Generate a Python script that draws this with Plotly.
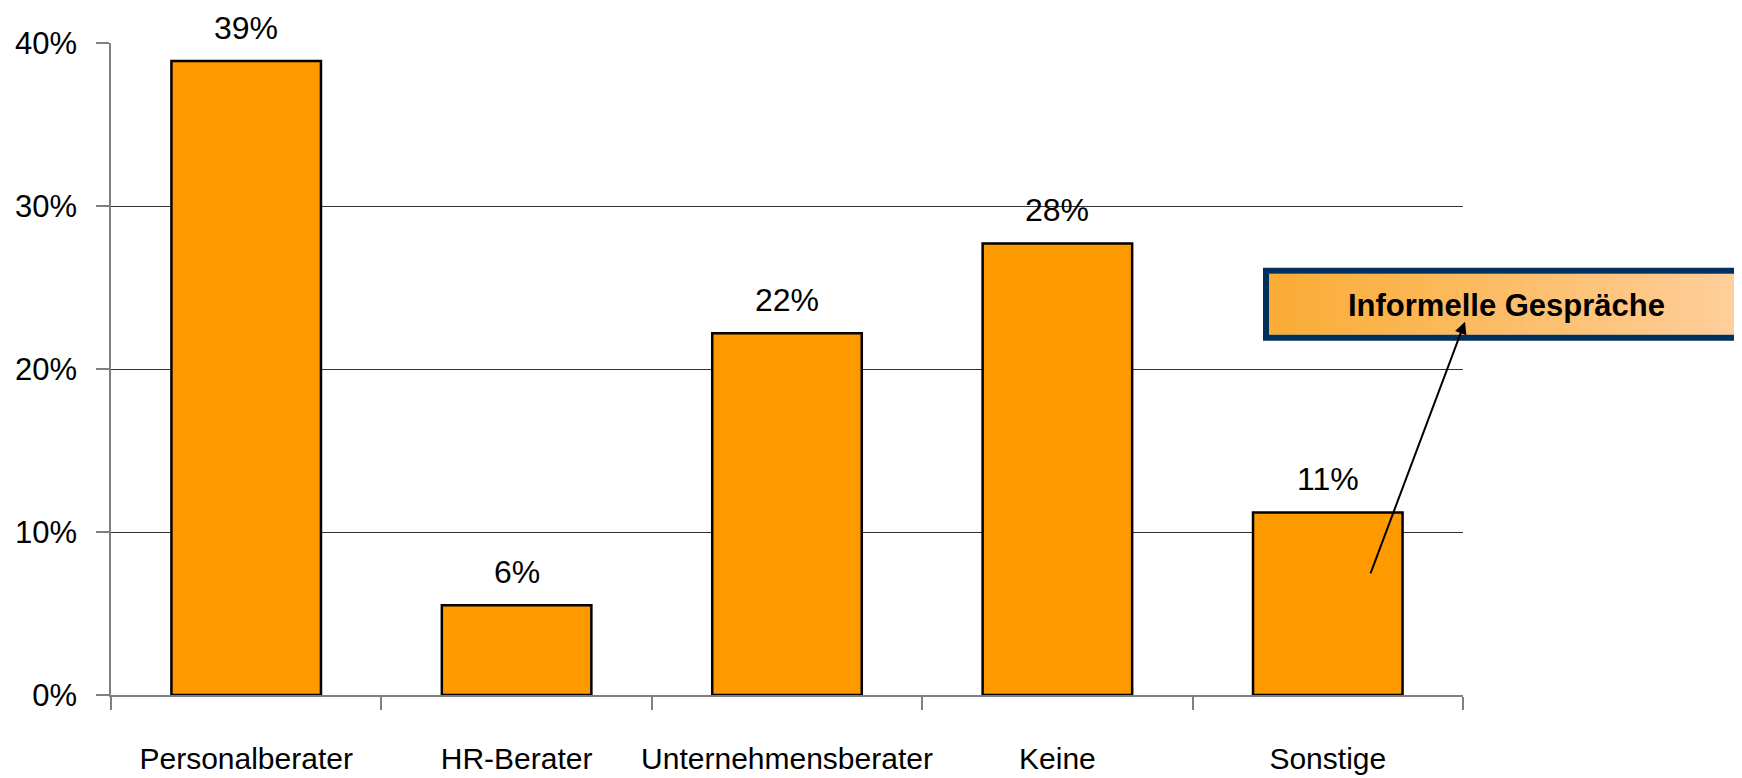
import plotly.graph_objects as go

# ---- data ----
categories = ['Personalberater', 'HR-Berater', 'Unternehmensberater', 'Keine', 'Sonstige']
shares = [38.9, 5.5, 22.2, 27.7, 11.2]
share_labels = ['39%', '6%', '22%', '28%', '11%']
y_ticks = [0, 10, 20, 30, 40]
y_tick_labels = ['0%', '10%', '20%', '30%', '40%']
callout_text = 'Informelle Gespräche'

W, H = 1742, 778
OFF = 8  # page body margin the figure gets drawn at
# plot area in page pixels: x 111..1463, y 43..695.5
L, T = 111 - OFF, 43 - OFF
R = W + OFF - 1463
B = H + OFF - 695.5
FONT = 'Liberation Sans, Arial, sans-serif'


def px_x(px):
    # page pixel -> paper x
    return (px - OFF - L) / (W - L - R)


def px_y(py):
    # page pixel -> paper y
    return (H - B - (py - OFF)) / (H - T - B)


fig = go.Figure()

fig.add_trace(go.Bar(
    x=categories,
    y=shares,
    marker=dict(color='#FF9900', line=dict(color='black', width=2.5)),
    hoverinfo='skip',
))

# value labels above bars
for cat, val, lab in zip(categories, shares, share_labels):
    fig.add_annotation(x=cat, y=val, text=lab, showarrow=False,
                       yanchor='bottom', yshift=14, borderpad=0,
                       font=dict(family=FONT, size=32, color='black'))

# callout box with horizontal gradient (drawn as thin stripes)
x_left, x_right = 1269, 1765
top, bottom = 274, 335
c0 = (250, 172, 52)
c1 = (255, 208, 160)
n = 60
step = (x_right - x_left) / n
for i in range(n):
    t = i / (n - 1)
    col = 'rgb(%d,%d,%d)' % tuple(round(a + (b - a) * t) for a, b in zip(c0, c1))
    fig.add_shape(type='rect', xref='paper', yref='paper',
                  x0=px_x(x_left + i * step), x1=px_x(x_left + (i + 1) * step + 0.6),
                  y0=px_y(bottom), y1=px_y(top),
                  fillcolor=col, line=dict(width=0), layer='above')
fig.add_shape(type='rect', xref='paper', yref='paper',
              x0=px_x(1266), x1=px_x(1800), y0=px_y(338), y1=px_y(271),
              line=dict(color='#00305C', width=6), fillcolor='rgba(0,0,0,0)',
              layer='above')

fig.add_annotation(xref='paper', yref='paper', x=px_x(1506), y=px_y(306),
                   text='<b>' + callout_text + '</b>', showarrow=False,
                   xanchor='center', yanchor='middle',
                   font=dict(family=FONT, size=31, color='black'))

# arrow from the Sonstige bar up to the callout
fig.add_annotation(xref='paper', yref='paper', x=px_x(1465), y=px_y(322),
                   ax=1370 - 1465, ay=575 - 322,
                   text='', showarrow=True, arrowhead=2, arrowsize=1.2,
                   arrowwidth=2, arrowcolor='black')

fig.update_layout(
    width=W, height=H,
    margin=dict(l=L, r=R, t=T, b=B, pad=0),
    plot_bgcolor='white', paper_bgcolor='white',
    bargap=0.447,
    showlegend=False,
    font=dict(family=FONT, size=30, color='black'),
)

fig.update_xaxes(
    type='category', automargin=False, tickangle=0,
    showline=True, linecolor='#808080', linewidth=1.5,
    ticks='outside', tickson='boundaries', ticklen=13, tickcolor='#808080', tickwidth=1.5,
    tickfont=dict(family=FONT, size=30, color='black'),
    ticklabelstandoff=36,
    showgrid=False,
)

fig.update_yaxes(
    range=[0, 40], automargin=False,
    tickvals=y_ticks, ticktext=y_tick_labels,
    showline=True, linecolor='#808080', linewidth=1.5,
    ticks='outside', ticklen=13, tickcolor='#808080', tickwidth=1.5,
    tickfont=dict(family=FONT, size=31, color='black'),
    ticklabelstandoff=13,
    showgrid=True, gridcolor='#333333', gridwidth=1,
    zeroline=False,
)

fig.write_html('out.html')
